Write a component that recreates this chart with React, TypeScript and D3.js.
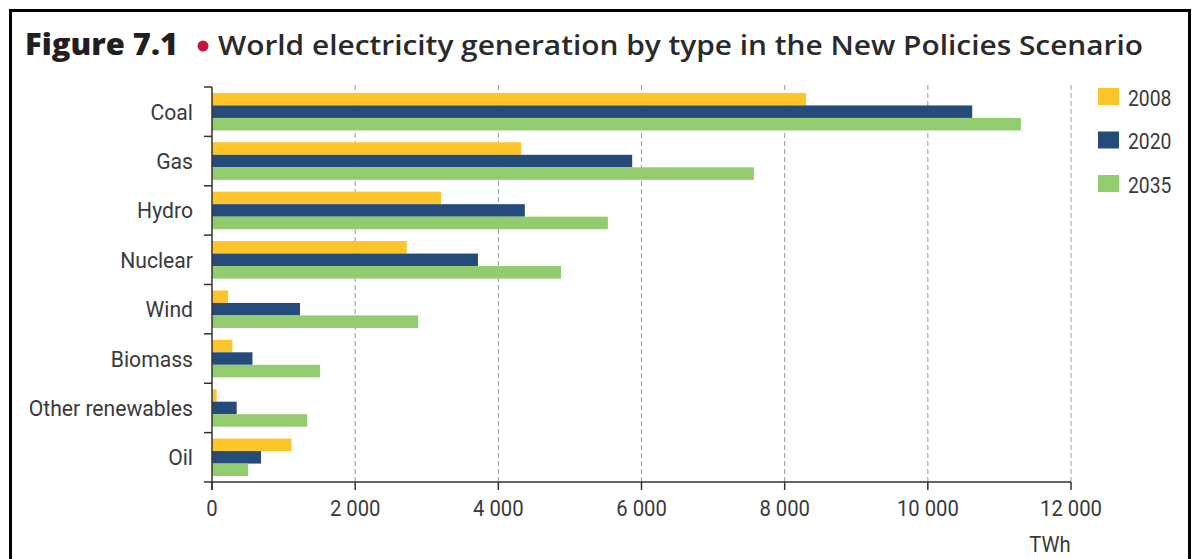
import React from "react";
import * as d3 from "d3";

const categories = ["Coal", "Gas", "Hydro", "Nuclear", "Wind", "Biomass", "Other renewables", "Oil"];
const years = ["2008", "2020", "2035"];
const values2008 = [8300, 4320, 3200, 2720, 225, 285, 65, 1110];
const values2020 = [10620, 5870, 4370, 3715, 1230, 565, 345, 685];
const values2035 = [11300, 7570, 5530, 4875, 2880, 1510, 1330, 505];
const xTicks = [0, 2000, 4000, 6000, 8000, 10000, 12000];
const colors = ["#FDC52A", "#244B7A", "#93CB6F"];

const W = 1193;
const H = 559;
const labelFont = "Roboto, 'DejaVu Sans Condensed', sans-serif";

function CondText(props: { x: number; y: number; anchor?: string; size?: number; sx?: number; children: React.ReactNode }) {
  const { x, y, anchor = "start", size = 22.5, sx = 0.94, children } = props;
  return (
    <text transform={`translate(${x},${y}) scale(${sx},1)`} textAnchor={anchor}
      fontFamily={labelFont} fontSize={size} fill="#3a3a3a">{children}</text>
  );
}

export default function App() {
  const x = d3.scaleLinear().domain([0, 12000]).range([212, 1071]);
  const y = d3.scaleBand<string>().domain(categories).range([87, 482]).paddingInner(0.24).paddingOuter(0.12);
  const sub = d3.scaleBand<string>().domain(years).range([0, y.bandwidth()]);
  const series = [values2008, values2020, values2035];
  const step = y.step();
  const axisY = 482;
  const fmt = (v: number) => (v >= 1000 ? d3.format(",")(v).replace(/,/g, " ") : String(v));

  return (
    <div style={{ position: "absolute", left: 0, top: 0 }}>
      <svg width={W} height={H} style={{ display: "block", background: "#fff" }}>
        {/* frame */}
        <path d={`M10.5 ${H + 5} V10.5 H1189.5 V${H + 5}`} fill="none" stroke="#000" strokeWidth={3} />
        {/* title */}
        <text x={25} y={55} fontFamily="'Open Sans', 'DejaVu Sans', sans-serif" fontWeight={800} fontSize={30}
          fill="#231f20" textLength={153} lengthAdjust="spacingAndGlyphs">Figure 7.1</text>
        <circle cx={203} cy={46} r={5.5} fill="#C4173F" />
        <text x={218} y={55} fontFamily="'Open Sans', sans-serif" fontWeight={600} fontSize={27.5}
          fill="#2a2a2a" textLength={925} lengthAdjust="spacingAndGlyphs">World electricity generation by type in the New Policies Scenario</text>

        {/* gridlines */}
        {xTicks.slice(1).map((t) => (
          <line key={"g" + t} x1={x(t)} x2={x(t)} y1={85} y2={axisY} stroke="#9a9a9a" strokeWidth={1}
            strokeDasharray="5,3" />
        ))}

        {/* bars */}
        {categories.map((c, i) => (
          <g key={c} transform={`translate(0,${y(c)})`}>
            {years.map((yr, j) => (
              <rect key={yr} x={x(0)} y={sub(yr)} width={x(series[j][i]) - x(0)} height={sub.bandwidth()}
                fill={colors[j]} />
            ))}
          </g>
        ))}

        {/* y axis */}
        <line x1={212} x2={212} y1={87} y2={axisY + 8} stroke="#333" strokeWidth={1.5} />
        {d3.range(categories.length + 1).map((k) => (
          <line key={"yt" + k} x1={204} x2={212} y1={87 + k * step} y2={87 + k * step} stroke="#333" strokeWidth={1.5} />
        ))}
        {categories.map((c) => (
          <CondText key={"l" + c} x={193} y={(y(c) as number) + y.bandwidth() / 2 + 8} anchor="end">{c}</CondText>
        ))}

        {/* x axis */}
        <line x1={212} x2={1071} y1={axisY} y2={axisY} stroke="#333" strokeWidth={1.5} />
        {xTicks.map((t) => (
          <g key={"xt" + t}>
            <line x1={x(t)} x2={x(t)} y1={axisY} y2={axisY + 8} stroke="#333" strokeWidth={1.5} />
            <CondText x={x(t)} y={516} anchor="middle" sx={0.9}>{fmt(t)}</CondText>
          </g>
        ))}
        <CondText x={1050} y={552} anchor="middle" sx={0.9}>TWh</CondText>

        {/* legend */}
        {years.map((yr, j) => (
          <g key={"lg" + yr} transform={`translate(1098,${88 + j * 43.5})`}>
            <rect x={0} y={0} width={21} height={17} fill={colors[j]} />
            <CondText x={30} y={17.5} size={21.5} sx={0.9}>{yr}</CondText>
          </g>
        ))}
      </svg>
    </div>
  );
}
